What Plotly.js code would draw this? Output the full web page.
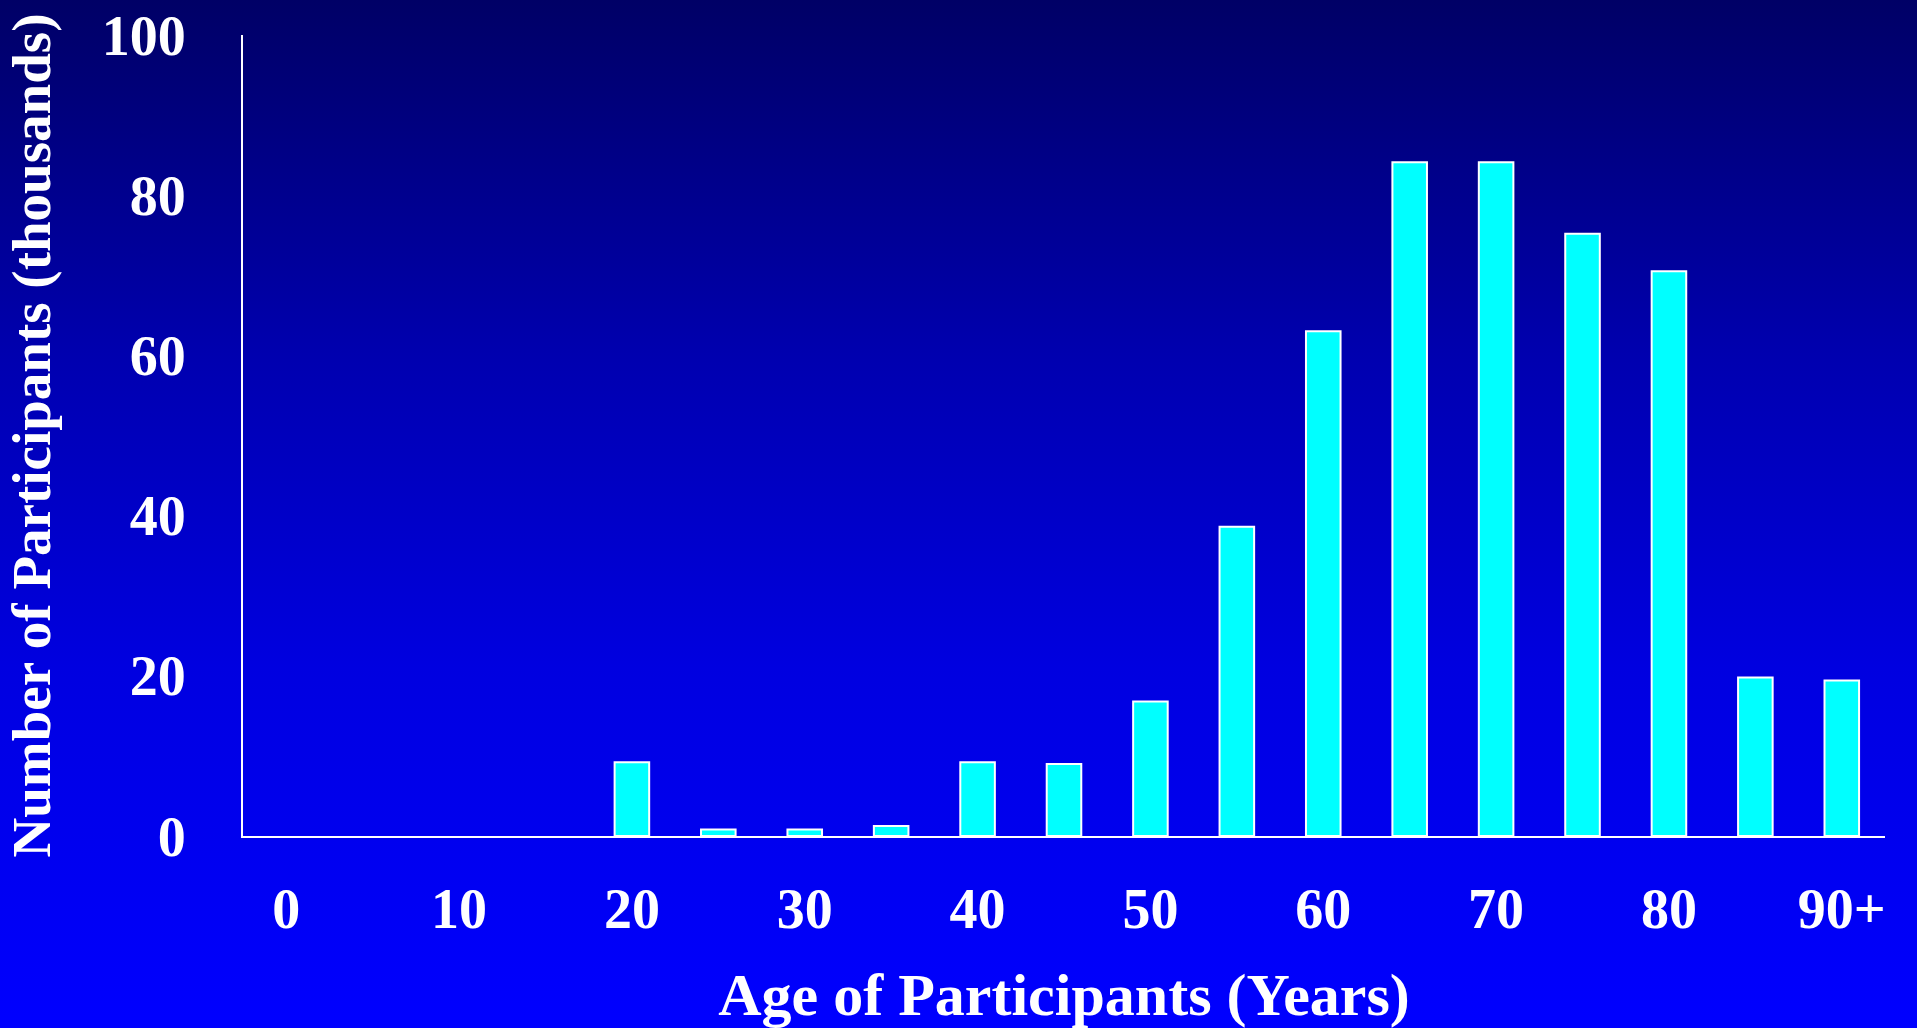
<!DOCTYPE html>
<html>
<head>
<meta charset="utf-8">
<script src="https://cdn.plot.ly/plotly-3.0.1.min.js"></script>
<style>
  html, body { margin: 0; padding: 0; width: 1917px; height: 1028px; overflow: hidden; }
  body { background: linear-gradient(to bottom, #000066 0%, #0000B0 35%, #0000E0 65%, #0000FF 100%); }
  #chart { width: 1917px; height: 1028px; }
</style>
</head>
<body>
<div id="chart"></div>
<script>
const ageGroups = ['0','5','10','15','20','25','30','35','40','45','50','55','60','65','70','75','80','85','90+'];
const participants = [0, 0, 0, 0, 9.2, 0.8, 0.8, 1.25, 9.2, 9.0, 16.8, 38.6, 63.0, 84.1, 84.1, 75.2, 70.5, 19.8, 19.4];
const xTickVals = ['0','10','20','30','40','50','60','70','80','90+'];
const xTickText = ['0','10','20','30','40','50','60','70','80','90+'];
const yTickVals = [0, 20, 40, 60, 80, 100];

const serif = 'Liberation Serif, Times New Roman, serif';

const trace = {
  type: 'bar',
  x: ageGroups,
  y: participants,
  marker: {
    color: '#00FFFF',
    line: { color: '#FFFFFF', width: participants.map(v => v > 0 ? 2 : 0) }
  },
  hoverinfo: 'x+y'
};

const layout = {
  width: 1917,
  height: 1028,
  paper_bgcolor: 'rgba(0,0,0,0)',
  plot_bgcolor: 'rgba(0,0,0,0)',
  margin: { l: 243, r: 32, t: 35, b: 192 },
  bargap: 0.6,
  showlegend: false,
  font: { family: serif, color: '#FFFFFF', weight: 'bold' },
  xaxis: {
    type: 'category',
    categoryorder: 'array',
    categoryarray: ageGroups,
    tickmode: 'array',
    tickvals: xTickVals,
    ticktext: xTickText,
    showgrid: false,
    zeroline: false,
    showline: true,
    linecolor: '#FFFFFF',
    linewidth: 2,
    ticks: '',
    ticklabelstandoff: 23,
    tickfont: { family: serif, size: 56, color: '#FFFFFF', weight: 'bold' },
    automargin: false,
    title: {
      text: 'Age of Participants (Years)',
      font: { family: serif, size: 60, color: '#FFFFFF', weight: 'bold' },
      standoff: 58
    }
  },
  yaxis: {
    range: [0, 100],
    tickmode: 'array',
    tickvals: yTickVals,
    showgrid: false,
    zeroline: false,
    showline: true,
    linecolor: '#FFFFFF',
    linewidth: 2,
    ticks: '',
    ticklabelstandoff: 44,
    tickfont: { family: serif, size: 56, color: '#FFFFFF', weight: 'bold' },
    automargin: false,
    title: {
      text: 'Number of Participants (thousands)',
      font: { family: serif, size: 55, color: '#FFFFFF', weight: 'bold' },
      standoff: 34
    }
  }
};

Plotly.newPlot('chart', [trace], layout, { displayModeBar: false, staticPlot: true });
</script>
</body>
</html>
